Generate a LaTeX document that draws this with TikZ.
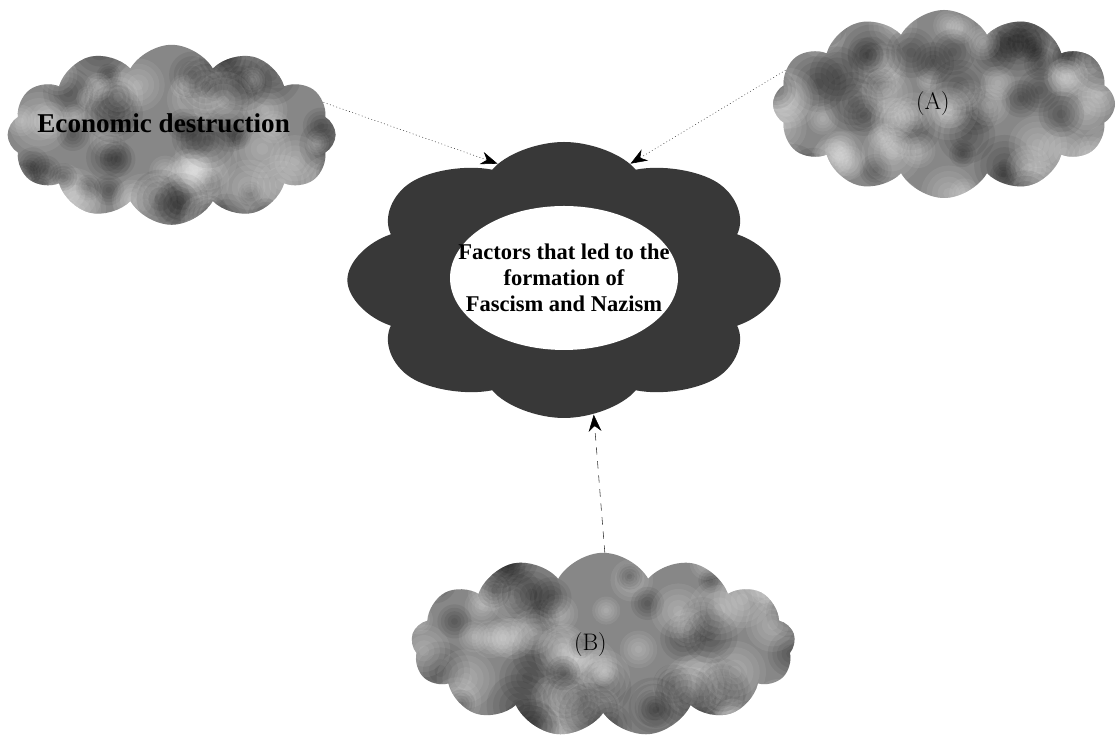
\documentclass[tikz,border=0pt]{standalone}
\usepackage{fontspec}
\usepackage{tikz}
\usetikzlibrary{arrows.meta,shapes.symbols,shapes.geometric,calc}
\newfontfamily\labelfont{Liberation Serif}

\begin{document}
\begin{tikzpicture}[line cap=round,
  smoke/.style={cloud,cloud puffs=#1,cloud puff arc=120,cloud ignores aspect,inner sep=0pt,fill=black!47,
    path picture={
      \foreach \k in {1,...,95}{
        \pgfmathsetmacro{\px}{rnd}
        \pgfmathsetmacro{\py}{rnd}
        \pgfmathsetmacro{\pr}{0.3+0.5*rnd}
        \pgfmathsetmacro{\pv}{rnd<0.5 ? 0 : 100}
        \coordinate (hx) at ($(path picture bounding box.south west)!\px!(path picture bounding box.south east)$);
        \coordinate (hy) at ($(path picture bounding box.south west)!\py!(path picture bounding box.north west)$);
        \foreach \s in {1,0.8,0.6,0.4,0.2}{\fill[black!\pv!white,opacity=0.07] (hx|-hy) circle (\s*\pr);}
      }}},
  feed/.style={-{Stealth[length=4.2mm,width=3.2mm,fill=black,black]},gray!40!black,thin},
  big/.style={font=\labelfont\bfseries\fontsize{19.3}{22}\selectfont},
  tag/.style={font=\fontsize{17}{20}\selectfont}]
\pgfmathsetseed{11}
\path[fill=white,use as bounding box] (0,0) rectangle (27.95,18.4);
\node[smoke=12,minimum width=8.2cm,minimum height=4.5cm,
  label={[big,xshift=-0.2cm,yshift=0.28cm]center:Economic destruction}] (econ) at (4.29,15.03) {};
\node[smoke=12,minimum width=8.55cm,minimum height=4.7cm,
  label={[tag,xshift=-0.28cm]center:(A)}] (causeA) at (23.6,15.8) {};
\node[smoke=13,minimum width=9.6cm,minimum height=4.6cm,
  label={[tag,xshift=-0.32cm]center:(B)}] (causeB) at (15.08,2.28) {};
\node[cloud,cloud puffs=8,cloud puff arc=125,minimum size=6.9cm,xscale=1.57,transform shape,
  fill=black!78] (hub) at (14.1,11.4) {};
\node[ellipse,fill=white,minimum width=5.7cm,minimum height=3.6cm,inner sep=0pt,
  label={[align=center,font=\labelfont\bfseries\fontsize{16}{18.5}\selectfont]center:Factors that led to the\\formation of\\Fascism and Nazism}] (focus) at (14.1,11.45) {};
\draw[feed,dotted] (econ.12) -- (hub.110);
\draw[feed,dotted] (causeA.168) -- (hub.70);
\draw[feed,dash pattern=on 5pt off 5pt] (causeB.89) -- (hub.278);
\end{tikzpicture}
\end{document}
